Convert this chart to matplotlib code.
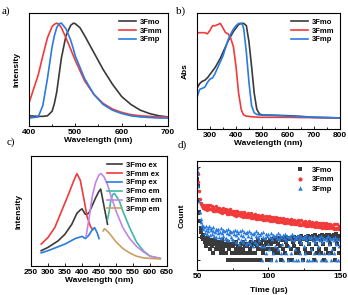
import numpy as np
import matplotlib
matplotlib.use("Agg")
import matplotlib.pyplot as plt
from matplotlib.ticker import MultipleLocator, LogLocator, NullFormatter

plt.rcParams['font.family'] = ['Liberation Sans', 'DejaVu Sans']

# a) emission spectra
pl_wl = [400, 420, 430, 440, 450, 455, 460, 465, 470, 480, 490, 496, 500, 510, 520, 540, 560, 580, 600, 620, 640, 660, 680, 700]
pl_mo = [0.09, 0.085, 0.085, 0.09, 0.13, 0.2, 0.3, 0.45, 0.6, 0.8, 0.89, 0.91, 0.905, 0.87, 0.8, 0.65, 0.5, 0.37, 0.26, 0.19, 0.14, 0.11, 0.09, 0.08]
pl_mm = [0.2, 0.45, 0.62, 0.78, 0.88, 0.9, 0.91, 0.9, 0.87, 0.78, 0.68, 0.62, 0.58, 0.49, 0.4, 0.28, 0.2, 0.15, 0.12, 0.1, 0.09, 0.085, 0.08, 0.08]
pl_mp = [0.07, 0.08, 0.18, 0.42, 0.7, 0.8, 0.87, 0.905, 0.91, 0.86, 0.76, 0.68, 0.62, 0.52, 0.42, 0.28, 0.19, 0.14, 0.11, 0.09, 0.08, 0.075, 0.07, 0.07]

# b) absorption spectra
abs_wl = [250, 260, 270, 280, 290, 300, 310, 320, 330, 340, 350, 360, 370, 380, 390, 400, 410, 420, 425, 430, 440, 450, 460, 470, 480, 490, 500, 550, 600, 650, 700, 750, 800]
abs_mo = [0.35, 0.39, 0.41, 0.42, 0.44, 0.47, 0.5, 0.53, 0.57, 0.61, 0.66, 0.71, 0.76, 0.8, 0.84, 0.87, 0.9, 0.91, 0.91, 0.91, 0.89, 0.75, 0.54, 0.31, 0.17, 0.13, 0.12, 0.118, 0.114, 0.108, 0.1, 0.098, 0.095]
abs_mm = [0.83, 0.83, 0.83, 0.83, 0.82, 0.85, 0.89, 0.89, 0.9, 0.91, 0.87, 0.83, 0.82, 0.78, 0.71, 0.54, 0.31, 0.17, 0.14, 0.12, 0.11, 0.108, 0.105, 0.103, 0.102, 0.1, 0.1, 0.1, 0.1, 0.098, 0.097, 0.096, 0.095]
abs_mp = [0.27, 0.34, 0.35, 0.36, 0.4, 0.43, 0.44, 0.48, 0.53, 0.58, 0.63, 0.7, 0.77, 0.82, 0.86, 0.89, 0.91, 0.91, 0.9, 0.86, 0.66, 0.4, 0.2, 0.14, 0.125, 0.12, 0.118, 0.115, 0.11, 0.105, 0.1, 0.097, 0.095]

# c) excitation / emission
ex_wl_mo = [280, 300, 330, 350, 370, 385, 395, 400, 410, 420, 430, 440, 450, 455, 460, 465, 470, 475]
ex_mo = [0.14, 0.17, 0.23, 0.29, 0.38, 0.48, 0.51, 0.52, 0.47, 0.48, 0.55, 0.62, 0.68, 0.7, 0.62, 0.54, 0.46, 0.38]
ex_wl_mm = [280, 300, 320, 340, 360, 375, 385, 395, 405, 415, 425, 432]
ex_mm = [0.2, 0.26, 0.35, 0.5, 0.65, 0.77, 0.84, 0.78, 0.62, 0.45, 0.36, 0.33]
ex_wl_mp = [280, 300, 350, 380, 400, 410, 420, 430, 437, 445, 450]
ex_mp = [0.12, 0.14, 0.2, 0.25, 0.27, 0.25, 0.28, 0.33, 0.35, 0.3, 0.25]
em_wl_mo = [475, 480, 485, 490, 495, 500, 510, 520, 540, 560, 580, 600, 630]
em_mo = [0.42, 0.5, 0.6, 0.65, 0.66, 0.64, 0.59, 0.5, 0.35, 0.22, 0.14, 0.09, 0.07]
em_wl_mm = [412, 420, 430, 440, 450, 456, 465, 475, 485, 500, 520, 540, 560, 580, 600, 630]
em_mm = [0.27, 0.42, 0.63, 0.76, 0.83, 0.84, 0.81, 0.74, 0.64, 0.5, 0.35, 0.25, 0.18, 0.13, 0.09, 0.07]
em_wl_mp = [462, 466, 470, 480, 490, 500, 520, 540, 560, 580, 600, 630]
em_mp = [0.32, 0.34, 0.33, 0.3, 0.26, 0.22, 0.16, 0.12, 0.09, 0.075, 0.07, 0.065]

# d) decay curves, 0.5 us channels from 50 to 150 us
t = np.arange(50, 150.01, 0.5)
cnt_mo = [3000, 1500, 400, 120, 50, 25, 16, 10, 12, 8,
          9, 6, 8, 4, 7, 9, 5, 7, 3, 6,
          7, 4, 6, 2, 5, 7, 3, 5, 4, 6,
          5, 3, 6, 2, 4, 7, 3, 5, 2, 4,
          5, 2, 4, 1, 6, 3, 4, 1, 5, 2,
          4, 2, 5, 1, 3, 6, 2, 4, 1, 3,
          4, 2, 5, 1, 3, 6, 2, 4, 1, 5,
          4, 2, 5, 1, 3, 6, 2, 4, 1, 5,
          5, 2, 6, 1, 4, 7, 3, 5, 1, 6,
          5, 3, 7, 2, 4, 7, 3, 5, 1, 6,
          6, 3, 7, 1, 5, 8, 3, 6, 2, 7,
          6, 3, 8, 2, 5, 9, 4, 7, 1, 8,
          7, 3, 9, 2, 6, 10, 4, 8, 1, 9,
          8, 3, 9, 1, 6, 10, 4, 8, 2, 9,
          8, 3, 10, 2, 6, 11, 5, 8, 1, 9,
          8, 3, 10, 2, 7, 11, 5, 8, 2, 10,
          8, 3, 11, 1, 7, 12, 5, 9, 2, 10,
          9, 3, 11, 2, 7, 12, 5, 9, 1, 11,
          9, 3, 12, 2, 7, 12, 5, 9, 2, 11,
          9, 3, 12, 1, 7, 13, 5, 9, 2, 11,
          9]
cnt_mm = [9000, 5000, 2200, 900, 420, 290, 250, 210, 245, 180,
          210, 155, 245, 170, 145, 225, 185, 160, 240, 165,
          150, 210, 135, 185, 160, 125, 205, 145, 175, 130,
          140, 180, 115, 165, 135, 110, 175, 122, 155, 112,
          125, 155, 100, 145, 115, 94, 150, 105, 130, 96,
          108, 132, 88, 125, 96, 81, 130, 91, 112, 84,
          94, 116, 76, 108, 86, 72, 114, 80, 99, 74,
          83, 104, 68, 97, 77, 64, 101, 71, 88, 66,
          74, 93, 61, 87, 69, 58, 91, 64, 79, 59,
          66, 83, 55, 78, 61, 52, 81, 57, 71, 53,
          59, 75, 49, 71, 55, 47, 73, 51, 64, 47,
          53, 68, 44, 64, 50, 42, 66, 46, 58, 43,
          48, 62, 40, 58, 45, 38, 60, 42, 53, 39,
          44, 57, 36, 53, 41, 35, 55, 38, 48, 35,
          40, 52, 33, 49, 37, 32, 51, 35, 44, 32,
          37, 48, 30, 45, 34, 29, 47, 32, 41, 30,
          34, 44, 28, 41, 31, 27, 43, 30, 38, 27,
          31, 41, 26, 38, 29, 25, 40, 28, 35, 25,
          29, 38, 24, 36, 27, 23, 37, 26, 32, 23,
          27, 36, 22, 34, 25, 21, 35, 24, 30, 22,
          26]
cnt_mp = [10000, 6000, 1500, 350, 120, 60, 42, 32, 28, 22,
          26, 15, 30, 19, 13, 24, 17, 28, 12, 20,
          23, 13, 18, 26, 11, 16, 22, 10, 19, 14,
          21, 10, 16, 24, 9, 15, 20, 11, 17, 8,
          19, 9, 14, 22, 7, 13, 18, 10, 16, 8,
          18, 7, 13, 20, 6, 12, 17, 9, 15, 5,
          17, 7, 12, 19, 6, 11, 16, 8, 14, 5,
          16, 6, 11, 18, 5, 10, 15, 7, 13, 4,
          15, 6, 11, 17, 5, 10, 14, 7, 12, 4,
          14, 1, 10, 16, 4, 9, 13, 2, 11, 5,
          13, 3, 10, 15, 1, 8, 12, 2, 11, 4,
          12, 1, 9, 14, 3, 8, 12, 2, 10, 5,
          12, 1, 9, 13, 2, 7, 11, 1, 10, 4,
          11, 2, 8, 13, 1, 7, 11, 3, 9, 1,
          11, 1, 8, 12, 2, 6, 10, 1, 9, 4,
          10, 2, 8, 12, 1, 6, 10, 1, 9, 3,
          10, 1, 7, 11, 2, 6, 9, 1, 8, 4,
          10, 2, 7, 11, 1, 6, 9, 2, 8, 1,
          9, 1, 7, 11, 2, 5, 9, 1, 8, 3,
          9, 2, 7, 10, 1, 5, 8, 1, 8, 4,
          9]

c_mo = '#3a3a3a'
c_mm = '#f23a3a'
c_mp = '#2a7be0'
c_em_mo = '#3cb8a8'
c_em_mm = '#c484e8'
c_em_mp = '#c8a064'

fs = 6
lw = 1.2

fig = plt.figure(figsize=(3.48, 2.95), dpi=100)
ax_a = fig.add_axes([0.083, 0.573, 0.400, 0.383])
ax_b = fig.add_axes([0.566, 0.563, 0.411, 0.393])
ax_c = fig.add_axes([0.089, 0.098, 0.391, 0.373])
ax_d = fig.add_axes([0.566, 0.085, 0.411, 0.369])


def style(ax):
    for s in ax.spines.values():
        s.set_linewidth(0.8)
    ax.tick_params(which='both', direction='in', labelsize=fs, width=0.6, pad=2)
    ax.tick_params(which='major', length=2.5)
    ax.tick_params(which='minor', length=1.5)
    for lb in ax.get_xticklabels():
        lb.set_fontweight('bold')


def legend(ax, hl=2.2):
    leg = ax.legend(loc='upper right', frameon=False, fontsize=fs - 0.5, handlelength=hl,
                    handletextpad=0.5, borderaxespad=0.3, labelspacing=0.2)
    for tx in leg.get_texts():
        tx.set_fontweight('bold')


# a
ax_a.plot(pl_wl, pl_mo, color=c_mo, lw=lw, label='3Fmo')
ax_a.plot(pl_wl, pl_mm, color=c_mm, lw=lw, label='3Fmm')
ax_a.plot(pl_wl, pl_mp, color=c_mp, lw=lw, label='3Fmp')
ax_a.set_xlim(400, 700)
ax_a.set_ylim(0, 1)
ax_a.set_xticks([400, 500, 600, 700])
ax_a.xaxis.set_minor_locator(MultipleLocator(50))
ax_a.set_yticks([])
ax_a.set_xlabel('Wavelength (nm)', fontsize=fs, fontweight='bold', labelpad=1)
ax_a.set_ylabel('Intensity', fontsize=fs, fontweight='bold', labelpad=6)
style(ax_a)
legend(ax_a)

# b
ax_b.plot(abs_wl, abs_mo, color=c_mo, lw=lw, label='3Fmo')
ax_b.plot(abs_wl, abs_mm, color=c_mm, lw=lw, label='3Fmm')
ax_b.plot(abs_wl, abs_mp, color=c_mp, lw=lw, label='3Fmp')
ax_b.set_xlim(250, 800)
ax_b.set_ylim(0, 1)
ax_b.set_xticks([300, 400, 500, 600, 700, 800])
ax_b.xaxis.set_minor_locator(MultipleLocator(50))
ax_b.set_yticks([])
ax_b.set_xlabel('Wavelength (nm)', fontsize=fs, fontweight='bold', labelpad=1)
ax_b.set_ylabel('Abs', fontsize=fs, fontweight='bold', labelpad=6)
style(ax_b)
legend(ax_b)

# c
ax_c.plot(ex_wl_mo, ex_mo, color=c_mo, lw=lw, label='3Fmo ex')
ax_c.plot(ex_wl_mm, ex_mm, color=c_mm, lw=lw, label='3Fmm ex')
ax_c.plot(ex_wl_mp, ex_mp, color=c_mp, lw=lw, label='3Fmp ex')
ax_c.plot(em_wl_mo, em_mo, color=c_em_mo, lw=lw, label='3Fmo em')
ax_c.plot(em_wl_mm, em_mm, color=c_em_mm, lw=lw, label='3Fmm em')
ax_c.plot(em_wl_mp, em_mp, color=c_em_mp, lw=lw, label='3Fmp em')
ax_c.set_xlim(250, 650)
ax_c.set_ylim(0, 1)
ax_c.set_xticks([250, 300, 350, 400, 450, 500, 550, 600, 650])
ax_c.set_yticks([])
ax_c.set_xlabel('Wavelength (nm)', fontsize=fs, fontweight='bold', labelpad=1)
ax_c.set_ylabel('Intensity', fontsize=fs, fontweight='bold', labelpad=6)
style(ax_c)
legend(ax_c, hl=2.0)

# d
ax_d.plot(t, cnt_mo, 's', color=c_mo, ms=2.2, mew=0, label='3Fmo')
ax_d.plot(t, cnt_mm, 'o', color=c_mm, ms=2.5, mew=0, label='3Fmm')
ax_d.plot(t, cnt_mp, '^', color=c_mp, ms=2.7, mew=0, label='3Fmp')
ax_d.set_yscale('log')
ax_d.set_xlim(50, 150)
ax_d.set_ylim(0.38, 18000)
ax_d.set_xticks([50, 100, 150])
ax_d.xaxis.set_minor_locator(MultipleLocator(25))
ax_d.yaxis.set_major_locator(LogLocator(base=10, numticks=10))
ax_d.yaxis.set_major_formatter(NullFormatter())
ax_d.yaxis.set_minor_locator(LogLocator(base=10, subs=[], numticks=10))
ax_d.set_xlabel('Time (μs)', fontsize=fs, fontweight='bold', labelpad=5)
ax_d.set_ylabel('Count', fontsize=fs, fontweight='bold', labelpad=6)
style(ax_d)
leg = ax_d.legend(loc='upper right', frameon=False, fontsize=fs - 0.5, markerscale=1.2,
                  handletextpad=0.6, borderaxespad=0.3, labelspacing=0.3)
for tx in leg.get_texts():
    tx.set_fontweight('bold')

# panel letters
for x, y, s in [(0.005, 0.955, 'a)'), (0.505, 0.955, 'b)'), (0.02, 0.51, 'c)'), (0.51, 0.5, 'd)')]:
    fig.text(x, y, s, fontsize=8, family='Liberation Serif')

fig.savefig('out.png', dpi=100)
